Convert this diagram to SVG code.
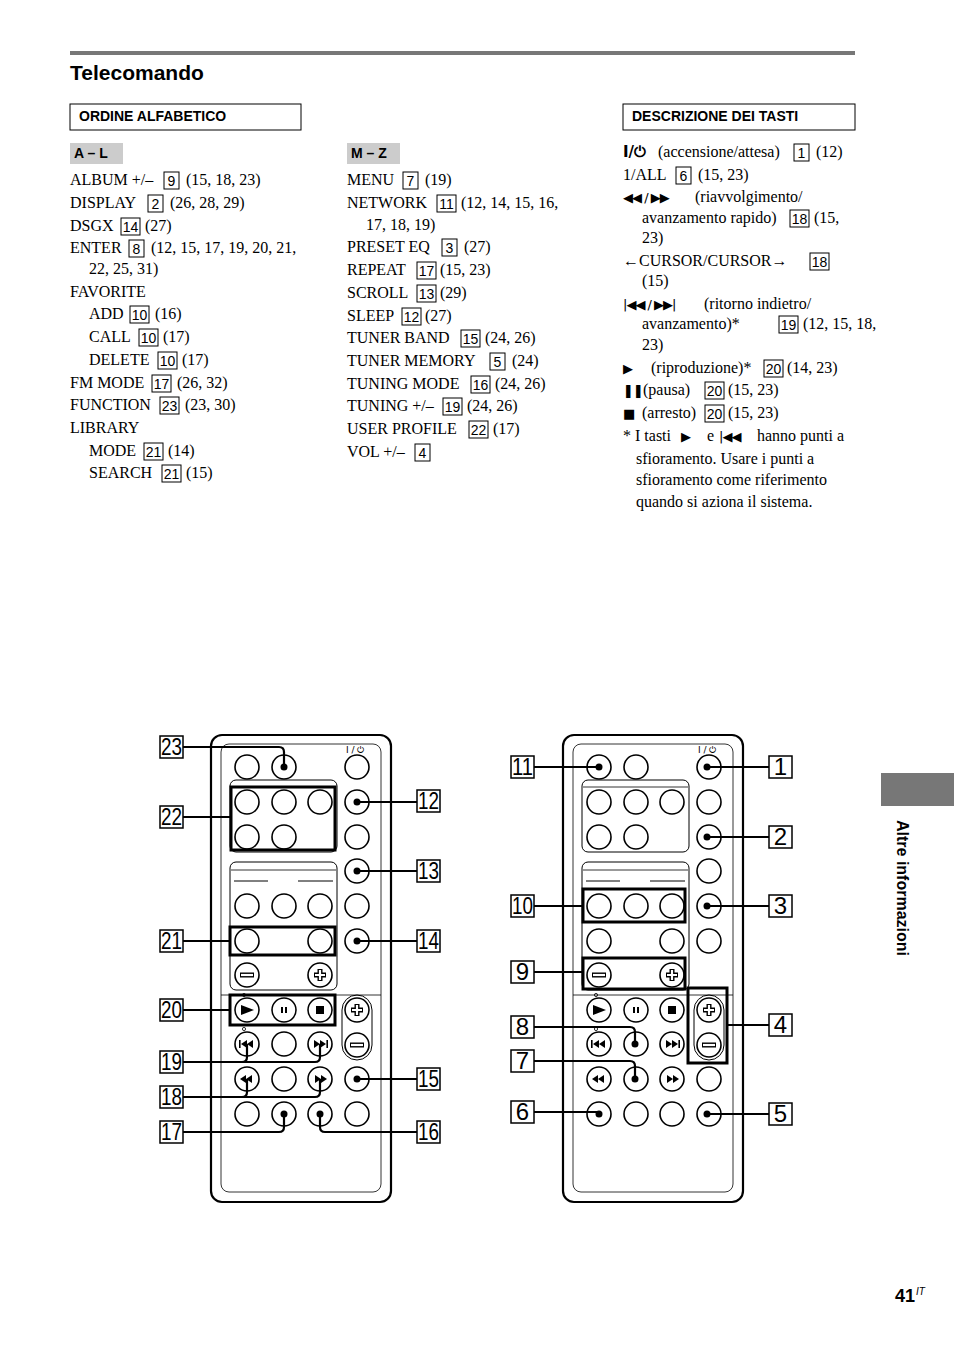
<svg xmlns="http://www.w3.org/2000/svg" width="954" height="1352" viewBox="0 0 954 1352">
<style>
.t{font-family:"Liberation Serif",serif;font-size:16px;fill:#000}
.h{font-family:"Liberation Sans",sans-serif;font-weight:bold;font-size:14px}
.bn{font-family:"Liberation Sans",sans-serif;font-size:14px;text-anchor:middle}
.nb{fill:none;stroke:#000;stroke-width:1}
.btn{fill:#fff;stroke:#000;stroke-width:1.6}
.ln{fill:none;stroke:#000;stroke-width:2.2}
.lb{fill:#fff;stroke:#000;stroke-width:1.5}
.lt{font-family:"Liberation Sans",sans-serif;font-size:24px;text-anchor:middle}
.dot{fill:#000}
.box{fill:none;stroke:#000;stroke-width:3}
.sym{font-family:"DejaVu Sans",sans-serif;font-size:13px;letter-spacing:-1px}
</style>
<defs>
<g id="play"><path d="M-6,-5 L7,0 L-6,5Z"/><circle cx="-3" cy="-15" r="1.6" fill="none" stroke="#000" stroke-width="0.8"/></g>
<g id="pause"><rect x="-3" y="-3" width="2" height="6"/><rect x="1" y="-3" width="2" height="6"/></g>
<g id="stop"><rect x="-4" y="-4" width="8" height="8"/></g>
<g id="prev"><rect x="-8" y="-4" width="1.6" height="8"/><path d="M-6,0 L0,-4 L0,4Z M0,0 L6,-4 L6,4Z"/><circle cx="-3" cy="-15" r="1.6" fill="none" stroke="#000" stroke-width="0.8"/></g>
<g id="next"><rect x="6.4" y="-4" width="1.6" height="8"/><path d="M6,0 L0,-4 L0,4Z M0,0 L-6,-4 L-6,4Z"/></g>
<g id="rew"><path d="M-7,0 L-1,-4 L-1,4Z M-1,0 L5,-4 L5,4Z"/></g>
<g id="ff"><path d="M7,0 L1,-4 L1,4Z M1,0 L-5,-4 L-5,4Z"/></g>
<g id="plus"><path d="M-6,0 H6 M0,-6 V6" stroke="#000" stroke-width="5"/><path d="M-5,0 H5 M0,-5 V5" stroke="#fff" stroke-width="2.2"/></g>
<g id="minus"><path d="M-7,0 H7" stroke="#000" stroke-width="5"/><path d="M-6,0 H6" stroke="#fff" stroke-width="2.2"/></g>
<g id="remote">
<rect x="211" y="735" width="180" height="467" rx="11" fill="#fff" stroke="#000" stroke-width="2.2"/>
<rect x="221" y="744" width="160" height="448" rx="8" fill="none" stroke="#000" stroke-width="0.8"/>
<text x="346" y="753" font-family="DejaVu Sans,sans-serif" font-size="9">I / ⏻</text>
<rect x="230" y="780" width="107" height="72" rx="6" fill="none" stroke="#000" stroke-width="1"/>
<path d="M231,787 H336" stroke="#000" stroke-width="0.8"/>
<rect x="230" y="862" width="107" height="128" rx="6" fill="none" stroke="#000" stroke-width="1"/>
<path d="M231,870 H336" stroke="#000" stroke-width="0.8"/>
<path d="M234,881 H268 M298,881 H333" stroke="#000" stroke-width="1"/>
<path d="M221,995 H381" stroke="#000" stroke-width="0.8"/>
<rect x="342" y="995" width="30" height="65" rx="15" fill="none" stroke="#000" stroke-width="1"/>
<g class="btn">
<circle cx="247" cy="767" r="12"/><circle cx="284" cy="767" r="12"/><circle cx="357" cy="767" r="12"/>
<circle cx="247" cy="802" r="12"/><circle cx="284" cy="802" r="12"/><circle cx="320" cy="802" r="12"/><circle cx="357" cy="802" r="12"/>
<circle cx="247" cy="837" r="12"/><circle cx="284" cy="837" r="12"/><circle cx="357" cy="837" r="12"/>
<circle cx="357" cy="871" r="12"/>
<circle cx="247" cy="906" r="12"/><circle cx="284" cy="906" r="12"/><circle cx="320" cy="906" r="12"/><circle cx="357" cy="906" r="12"/>
<circle cx="247" cy="941" r="12"/><circle cx="320" cy="941" r="12"/><circle cx="357" cy="941" r="12"/>
<circle cx="247" cy="975" r="12"/><circle cx="320" cy="975" r="12"/>
<circle cx="247" cy="1010" r="12"/><circle cx="284" cy="1010" r="12"/><circle cx="320" cy="1010" r="12"/>
<circle cx="357" cy="1010" r="12"/><circle cx="357" cy="1045" r="12"/>
<circle cx="247" cy="1044" r="12"/><circle cx="284" cy="1044" r="12"/><circle cx="320" cy="1044" r="12"/>
<circle cx="247" cy="1079" r="12"/><circle cx="284" cy="1079" r="12"/><circle cx="320" cy="1079" r="12"/><circle cx="357" cy="1079" r="12"/>
<circle cx="247" cy="1114" r="12"/><circle cx="284" cy="1114" r="12"/><circle cx="320" cy="1114" r="12"/><circle cx="357" cy="1114" r="12"/>
</g>
<use href="#minus" x="247" y="975"/><use href="#plus" x="320" y="975"/>
<use href="#play" x="247" y="1010"/><use href="#pause" x="284" y="1010"/><use href="#stop" x="320" y="1010"/>
<use href="#plus" x="357" y="1010"/><use href="#minus" x="357" y="1045"/>
<use href="#prev" x="247" y="1044"/><use href="#next" x="320" y="1044"/>
<use href="#rew" x="247" y="1079"/><use href="#ff" x="320" y="1079"/>
</g>
</defs>

<g id="header">
<rect x="70" y="51" width="785" height="4" fill="#777"/>
<text x="70" y="80" font-family="Liberation Sans,sans-serif" font-weight="bold" font-size="21">Telecomando</text>
<rect x="70" y="104" width="231" height="26" fill="none" stroke="#000"/>
<text x="79" y="121" class="h">ORDINE ALFABETICO</text>
<rect x="623" y="104" width="232" height="26" fill="none" stroke="#000"/>
<text x="632" y="121" class="h">DESCRIZIONE DEI TASTI</text>
<rect x="70" y="143" width="53" height="21" fill="#ccc"/>
<text x="74" y="158" class="h">A – L</text>
<rect x="347" y="143" width="53" height="21" fill="#ccc"/>
<text x="351" y="158" class="h">M – Z</text>
<rect x="881" y="773" width="73" height="33" fill="#777"/>
<text transform="translate(897,820) rotate(90)" font-family="Liberation Sans,sans-serif" font-weight="bold" font-size="16">Altre informazioni</text>
<text x="895" y="1302" font-family="Liberation Sans,sans-serif" font-weight="bold" font-size="18">41</text>
<text x="916" y="1295" font-family="Liberation Sans,sans-serif" font-style="italic" font-size="10">IT</text>
</g>

<g id="list-al" class="t">
<text y="185"><tspan x="70">ALBUM +/–</tspan><tspan x="186">(15, 18, 23)</tspan></text>
<text y="208"><tspan x="70">DISPLAY</tspan><tspan x="170">(26, 28, 29)</tspan></text>
<text y="231"><tspan x="70">DSGX</tspan><tspan x="145">(27)</tspan></text>
<text y="253"><tspan x="70">ENTER</tspan><tspan x="151">(12, 15, 17, 19, 20, 21,</tspan></text>
<text x="89" y="274">22, 25, 31)</text>
<text x="70" y="297">FAVORITE</text>
<text y="319"><tspan x="89">ADD</tspan><tspan x="155">(16)</tspan></text>
<text y="342"><tspan x="89">CALL</tspan><tspan x="163">(17)</tspan></text>
<text y="365"><tspan x="89">DELETE</tspan><tspan x="182">(17)</tspan></text>
<text y="388"><tspan x="70">FM MODE</tspan><tspan x="177">(26, 32)</tspan></text>
<text y="410"><tspan x="70">FUNCTION</tspan><tspan x="185">(23, 30)</tspan></text>
<text x="70" y="433">LIBRARY</text>
<text y="456"><tspan x="89">MODE</tspan><tspan x="168">(14)</tspan></text>
<text y="478"><tspan x="89">SEARCH</tspan><tspan x="186">(15)</tspan></text>
<text y="185"><tspan x="347">MENU</tspan><tspan x="425">(19)</tspan></text>
<text y="208"><tspan x="347">NETWORK</tspan><tspan x="461">(12, 14, 15, 16,</tspan></text>
<text x="366" y="230">17, 18, 19)</text>
<text y="252"><tspan x="347">PRESET EQ</tspan><tspan x="464">(27)</tspan></text>
<text y="275"><tspan x="347">REPEAT</tspan><tspan x="440">(15, 23)</tspan></text>
<text y="298"><tspan x="347">SCROLL</tspan><tspan x="440">(29)</tspan></text>
<text y="321"><tspan x="347">SLEEP</tspan><tspan x="425">(27)</tspan></text>
<text y="343"><tspan x="347">TUNER BAND</tspan><tspan x="485">(24, 26)</tspan></text>
<text y="366"><tspan x="347">TUNER MEMORY</tspan><tspan x="512">(24)</tspan></text>
<text y="389"><tspan x="347">TUNING MODE</tspan><tspan x="495">(24, 26)</tspan></text>
<text y="411"><tspan x="347">TUNING +/–</tspan><tspan x="467">(24, 26)</tspan></text>
<text y="434"><tspan x="347">USER PROFILE</tspan><tspan x="493">(17)</tspan></text>
<text x="347" y="457">VOL +/–</text>
<text y="157"><tspan x="623" font-family="DejaVu Sans,sans-serif" font-size="15" font-weight="bold">I/⏻</tspan><tspan x="658">(accensione/attesa)</tspan><tspan x="816">(12)</tspan></text>
<text y="180"><tspan x="623">1/ALL</tspan><tspan x="698">(15, 23)</tspan></text>
<text y="202"><tspan x="623" class="sym">◀◀ / ▶▶</tspan><tspan x="695">(riavvolgimento/</tspan></text>
<text y="223"><tspan x="642">avanzamento rapido)</tspan><tspan x="814">(15,</tspan></text>
<text x="642" y="243">23)</text>
<text y="266"><tspan x="623">←CURSOR/CURSOR→</tspan></text>
<text x="642" y="286">(15)</text>
<text y="309"><tspan x="623" class="sym">|◀◀ / ▶▶|</tspan><tspan x="704">(ritorno indietro/</tspan></text>
<text y="329"><tspan x="642">avanzamento)*</tspan><tspan x="803">(12, 15, 18,</tspan></text>
<text x="642" y="350">23)</text>
<text y="373"><tspan x="623" class="sym">▶</tspan><tspan x="651">(riproduzione)*</tspan><tspan x="787">(14, 23)</tspan></text>
<text y="395"><tspan x="623" class="sym">❚❚</tspan><tspan x="643">(pausa)</tspan><tspan x="728">(15, 23)</tspan></text>
<text y="418"><tspan x="623" class="sym">■</tspan><tspan x="642">(arresto)</tspan><tspan x="728">(15, 23)</tspan></text>
<text y="441"><tspan x="623">* I tasti</tspan><tspan x="681" class="sym">▶</tspan><tspan x="707">e</tspan><tspan x="719" class="sym">|◀◀</tspan><tspan x="757">hanno punti a</tspan></text>
<text x="636" y="464">sfioramento. Usare i punti a</text>
<text x="636" y="485">sfioramento come riferimento</text>
<text x="636" y="507">quando si aziona il sistema.</text>
</g>

<g id="list-boxes">
<g class="nb">
<rect x="164" y="172" width="15" height="17"/><rect x="148" y="195" width="15" height="17"/><rect x="121" y="218" width="19" height="17"/>
<rect x="129" y="240" width="15" height="17"/><rect x="130" y="306" width="19" height="17"/><rect x="139" y="329" width="19" height="17"/>
<rect x="158" y="352" width="19" height="17"/><rect x="152" y="375" width="19" height="17"/><rect x="160" y="397" width="19" height="17"/>
<rect x="144" y="443" width="19" height="17"/><rect x="162" y="465" width="19" height="17"/>
<rect x="403" y="172" width="15" height="17"/><rect x="437" y="195" width="19" height="17"/><rect x="442" y="239" width="15" height="17"/>
<rect x="417" y="262" width="19" height="17"/><rect x="417" y="285" width="19" height="17"/><rect x="402" y="308" width="19" height="17"/>
<rect x="461" y="330" width="19" height="17"/><rect x="490" y="353" width="15" height="17"/><rect x="471" y="376" width="19" height="17"/>
<rect x="443" y="398" width="19" height="17"/><rect x="469" y="421" width="19" height="17"/><rect x="415" y="444" width="15" height="17"/>
<rect x="794" y="144" width="15" height="17"/><rect x="676" y="167" width="15" height="17"/><rect x="790" y="210" width="19" height="17"/>
<rect x="810" y="253" width="19" height="17"/><rect x="779" y="316" width="19" height="17"/><rect x="764" y="360" width="19" height="17"/>
<rect x="705" y="382" width="19" height="17"/><rect x="705" y="405" width="19" height="17"/>
</g>
<g class="bn">
<text x="171.5" y="186">9</text><text x="155.5" y="209">2</text><text x="130.5" y="232">14</text><text x="136.5" y="254">8</text>
<text x="139.5" y="320">10</text><text x="148.5" y="343">10</text><text x="167.5" y="366">10</text><text x="161.5" y="389">17</text>
<text x="169.5" y="411">23</text><text x="153.5" y="457">21</text><text x="171.5" y="479">21</text>
<text x="410.5" y="186">7</text><text x="446.5" y="209">11</text><text x="449.5" y="253">3</text><text x="426.5" y="276">17</text>
<text x="426.5" y="299">13</text><text x="411.5" y="322">12</text><text x="470.5" y="344">15</text><text x="497.5" y="367">5</text>
<text x="480.5" y="390">16</text><text x="452.5" y="412">19</text><text x="478.5" y="435">22</text><text x="422.5" y="458">4</text>
<text x="801.5" y="158">1</text><text x="683.5" y="181">6</text><text x="799.5" y="224">18</text><text x="819.5" y="267">18</text>
<text x="788.5" y="330">19</text><text x="773.5" y="374">20</text><text x="714.5" y="396">20</text><text x="714.5" y="419">20</text>
</g>
</g>

<g id="remote-left"><use href="#remote"/></g>
<g id="remote-right"><use href="#remote" x="352"/></g>

<g id="group-boxes" class="box">
<rect x="231" y="787" width="104" height="63"/>
<rect x="230" y="927" width="105" height="28"/>
<rect x="230" y="995" width="105" height="30"/>
<rect x="583" y="889" width="102" height="33"/>
<rect x="583" y="958" width="102" height="31"/>
<rect x="688" y="988" width="39" height="75"/>
</g>

<g id="connectors">
<g class="ln">
<path d="M183,747 H279 Q284,747 284,752 V767"/>
<path d="M183,817 H231"/>
<path d="M183,941 H230"/>
<path d="M183,1010 H230"/>
<path d="M183,1062 H242 Q247,1062 247,1057 V1044 M242,1062 H315 Q320,1062 320,1057 V1044"/>
<path d="M183,1097 H242 Q247,1097 247,1092 V1079 M242,1097 H315 Q320,1097 320,1092 V1079"/>
<path d="M183,1132 H279 Q284,1132 284,1127 V1114"/>
<path d="M417,1132 H325 Q320,1132 320,1127 V1114"/>
<path d="M357,802 H417 M357,871 H417 M357,941 H417 M357,1079 H417"/>
<path d="M534,767 H599 M534,906 H583 M534,972 H583 M534,1112 H599"/>
<path d="M534,1027 H630 Q635,1027 635,1032 V1044 M534,1061 H630 Q635,1061 635,1066 V1079"/>
<path d="M707,767 H769 M707,837 H769 M707,906 H769 M727,1025 H769 M707,1114 H769"/>
</g>
<g class="dot">
<circle cx="284" cy="767" r="3.5"/><circle cx="357" cy="802" r="3.5"/><circle cx="357" cy="871" r="3.5"/><circle cx="357" cy="941" r="3.5"/>
<circle cx="357" cy="1079" r="3.5"/><circle cx="284" cy="1114" r="3.5"/><circle cx="320" cy="1114" r="3.5"/>
<circle cx="599" cy="767" r="3.5"/><circle cx="707" cy="767" r="3.5"/><circle cx="707" cy="837" r="3.5"/><circle cx="707" cy="906" r="3.5"/>
<circle cx="635" cy="1044" r="3.5"/><circle cx="635" cy="1079" r="3.5"/><circle cx="599" cy="1114" r="3.5"/><circle cx="707" cy="1114" r="3.5"/>
</g>
</g>

<g id="labels">
<g class="lb">
<rect x="160" y="736" width="23" height="22"/><rect x="160" y="806" width="23" height="22"/><rect x="160" y="930" width="23" height="22"/>
<rect x="160" y="999" width="23" height="22"/><rect x="160" y="1051" width="23" height="22"/><rect x="160" y="1086" width="23" height="22"/>
<rect x="160" y="1121" width="23" height="22"/>
<rect x="417" y="790" width="23" height="22"/><rect x="417" y="860" width="23" height="22"/><rect x="417" y="930" width="23" height="22"/>
<rect x="417" y="1068" width="23" height="22"/><rect x="417" y="1121" width="23" height="22"/>
<rect x="511" y="756" width="23" height="22"/><rect x="511" y="895" width="23" height="22"/><rect x="511" y="961" width="23" height="22"/>
<rect x="511" y="1016" width="23" height="22"/><rect x="511" y="1050" width="23" height="22"/><rect x="511" y="1101" width="23" height="22"/>
<rect x="769" y="756" width="23" height="22"/><rect x="769" y="826" width="23" height="22"/><rect x="769" y="895" width="23" height="22"/>
<rect x="769" y="1014" width="23" height="22"/><rect x="769" y="1103" width="23" height="22"/>
</g>
<g class="lt" font-size="22">
<text x="171.5" y="755" textLength="21" lengthAdjust="spacingAndGlyphs">23</text>
<text x="171.5" y="825" textLength="21" lengthAdjust="spacingAndGlyphs">22</text>
<text x="171.5" y="949" textLength="21" lengthAdjust="spacingAndGlyphs">21</text>
<text x="171.5" y="1018" textLength="21" lengthAdjust="spacingAndGlyphs">20</text>
<text x="171.5" y="1070" textLength="21" lengthAdjust="spacingAndGlyphs">19</text>
<text x="171.5" y="1105" textLength="21" lengthAdjust="spacingAndGlyphs">18</text>
<text x="171.5" y="1140" textLength="21" lengthAdjust="spacingAndGlyphs">17</text>
<text x="428.5" y="809" textLength="21" lengthAdjust="spacingAndGlyphs">12</text>
<text x="428.5" y="879" textLength="21" lengthAdjust="spacingAndGlyphs">13</text>
<text x="428.5" y="949" textLength="21" lengthAdjust="spacingAndGlyphs">14</text>
<text x="428.5" y="1087" textLength="21" lengthAdjust="spacingAndGlyphs">15</text>
<text x="428.5" y="1140" textLength="21" lengthAdjust="spacingAndGlyphs">16</text>
<text x="522.5" y="775" textLength="21" lengthAdjust="spacingAndGlyphs">11</text>
<text x="522.5" y="914" textLength="21" lengthAdjust="spacingAndGlyphs">10</text>
<text x="522.5" y="980">9</text><text x="522.5" y="1035">8</text><text x="522.5" y="1069">7</text><text x="522.5" y="1120">6</text>
<text x="780.5" y="775">1</text><text x="780.5" y="845">2</text><text x="780.5" y="914">3</text><text x="780.5" y="1033">4</text><text x="780.5" y="1122">5</text>
</g>
</g>
</svg>
